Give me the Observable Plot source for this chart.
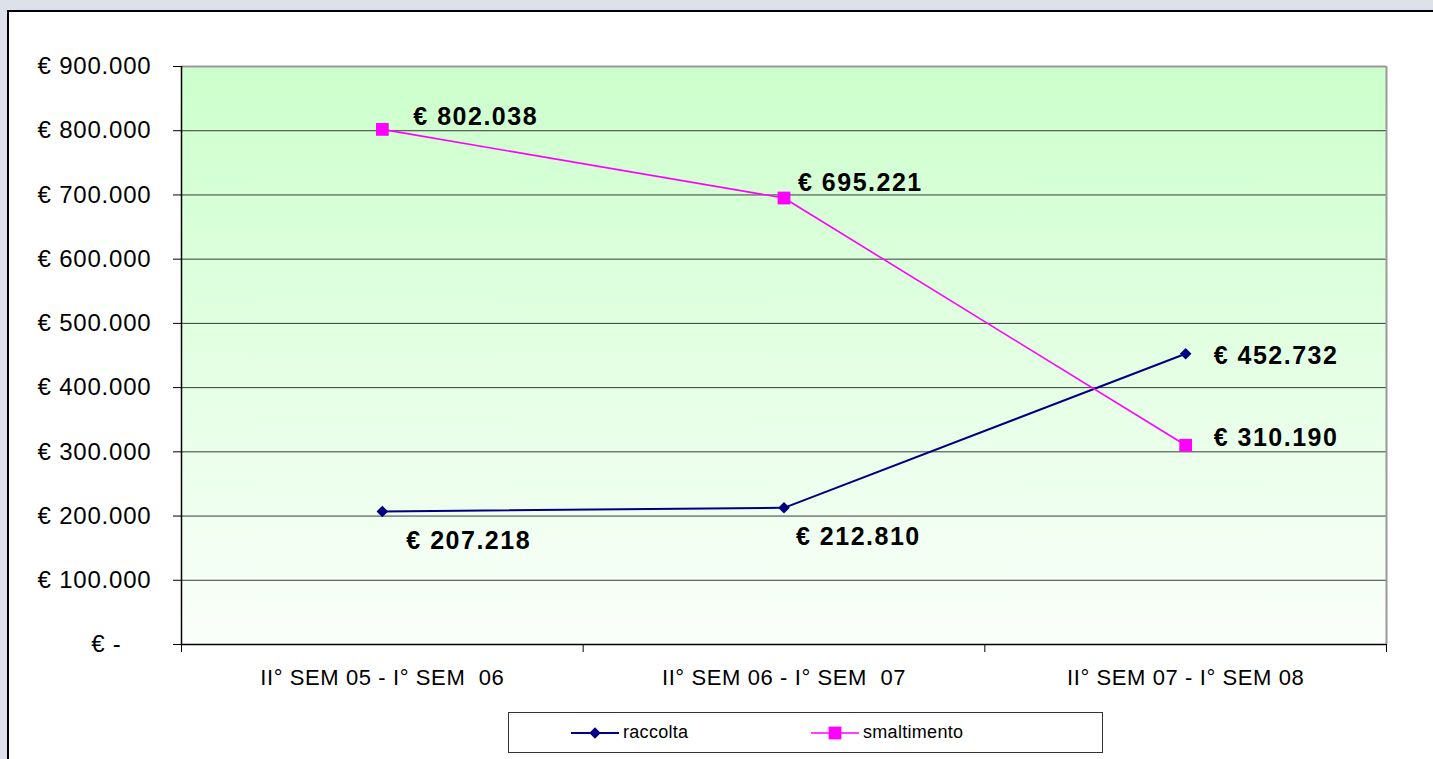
<!DOCTYPE html>
<html>
<head>
<meta charset="utf-8">
<script src="https://cdn.jsdelivr.net/npm/d3@7"></script>
<script src="https://cdn.jsdelivr.net/npm/@observablehq/plot@0.6"></script>
<style>
  html, body { margin: 0; padding: 0; overflow: hidden; }
  body { width: 1433px; height: 759px; background: #dde1ea; position: relative; font-family: "Liberation Sans", Arial, sans-serif; }
  #frame { position: absolute; left: 7px; top: 10px; width: 1426px; height: 749px; box-sizing: border-box; border-left: 2px solid #000; border-top: 2px solid #000; background: #fff; }
  #chart { position: absolute; left: 0; top: 0; }
  #chart svg text { white-space: pre; }
  #chart svg g[aria-label="y-axis tick label"] text { letter-spacing: 0.8px; }
  #chart svg g[aria-label="x-axis tick label"] text { letter-spacing: 0.6px; }
  #chart svg g[aria-label="text"] text { letter-spacing: 1.5px; }
  #legend { position: absolute; left: 508px; top: 712px; width: 593px; height: 39px; border: 1px solid #333; background: #fff; }
  #legend .item { position: absolute; top: 0; height: 39px; display: flex; align-items: center; font-size: 18px; letter-spacing: 0.3px; color: #000; }
  #legend svg { margin-right: 4px; }
</style>
</head>
<body>
<div id="frame"></div>
<div id="chart"></div>
<div id="legend"></div>
<script>
// ---- data ----
const categories = ["II° SEM 05 - I° SEM  06", "II° SEM 06 - I° SEM  07", "II° SEM 07 - I° SEM 08"];
const seriesNames = ["raccolta", "smaltimento"];
const raccolta = [207218, 212810, 452732];
const smaltimento = [802038, 695221, 310190];
const yTicks = [0, 100000, 200000, 300000, 400000, 500000, 600000, 700000, 800000, 900000];

// ---- styles / layout (not data) ----
const seriesColors = ["#000080", "#ff00ff"];
const seriesSymbols = ["diamond2", "square"];
const seriesR = [5.2, 7.2];
const seriesWidth = [2, 1.6];
const labelOffsets = {
  raccolta: [[24, 30], [12, 29], [28, 2]],
  smaltimento: [[31, -12], [14, -15], [28, -7]]
};

const itLocale = d3.formatLocale({decimal: ",", thousands: ".", grouping: [3], currency: ["€", ""]});
const fmt = itLocale.format(",");
const euroTick = d => d === 0 ? "€ -    " : "€ " + fmt(d);
const euroLabel = d => "€ " + fmt(d);

const valuesBySeries = {raccolta, smaltimento};
const rows = [];
seriesNames.forEach(s => valuesBySeries[s].forEach((v, i) => rows.push({serie: s, i, pos: i + 0.5, cat: categories[i], value: v})));

const gradientDefs = () => {
  const defs = d3.create("svg:defs");
  const g = defs.append("linearGradient").attr("id", "bgGrad").attr("x1", 0).attr("y1", 0).attr("x2", 0).attr("y2", 1);
  g.append("stop").attr("offset", "0%").attr("stop-color", "#ccffcc");
  g.append("stop").attr("offset", "100%").attr("stop-color", "#fafffa");
  return defs.node();
};

const labelMarks = [];
seriesNames.forEach(s => {
  rows.filter(r => r.serie === s).forEach(r => {
    const [dx, dy] = labelOffsets[s][r.i];
    labelMarks.push(Plot.text([r], {x: "pos", y: "value", text: d => euroLabel(d.value), dx, dy, textAnchor: "start", fontWeight: "bold", fontSize: 25, fill: "#000"}));
  });
});

const plot = Plot.plot({
  width: 1433,
  height: 700,
  marginLeft: 181,
  marginRight: 47,
  marginTop: 66,
  marginBottom: 56,
  style: {fontFamily: "'Liberation Sans', Arial, sans-serif", fontSize: "24px", color: "#000", background: "transparent", overflow: "visible"},
  x: {type: "linear", domain: [0, categories.length], axis: null, label: null},
  y: {type: "linear", domain: [0, 900000], axis: null, label: null},
  color: {domain: seriesNames, range: seriesColors},
  marks: [
    gradientDefs,
    Plot.frame({fill: "url(#bgGrad)", stroke: "none"}),
    Plot.ruleY(yTicks.filter(t => t > 0 && t < 900000), {stroke: "#3a3a3a", strokeWidth: 1}),
    Plot.ruleY([900000], {stroke: "#999", strokeWidth: 2}),
    Plot.ruleX([categories.length], {stroke: "#999", strokeWidth: 2}),
    Plot.axisY(yTicks, {tickSize: 8, tickPadding: 22, tickFormat: euroTick, stroke: "#000", fontSize: 24, label: null}),
    Plot.axisX(d3.range(categories.length + 1), {tickSize: 8, tickFormat: () => "", stroke: "#000", label: null}),
    Plot.axisX(categories.map((c, i) => i + 0.5), {tickSize: 0, tickPadding: 25, tickFormat: v => categories[Math.floor(v)], fontSize: 22, label: null}),
    Plot.ruleX([0], {stroke: "#000", strokeWidth: 1.5}),
    Plot.ruleY([0], {stroke: "#000", strokeWidth: 1.5}),
    ...seriesNames.map((s, k) => Plot.line(rows.filter(r => r.serie === s), {x: "pos", y: "value", stroke: seriesColors[k], strokeWidth: seriesWidth[k]})),
    ...seriesNames.map((s, k) => Plot.dot(rows.filter(r => r.serie === s), {x: "pos", y: "value", symbol: seriesSymbols[k], r: seriesR[k], fill: seriesColors[k], stroke: "none"})),
    ...labelMarks
  ]
});
document.getElementById("chart").appendChild(plot);

// ---- legend ----
const legend = d3.select("#legend");
const itemLeft = [62, 302];
seriesNames.forEach((s, k) => {
  const item = legend.append("div").attr("class", "item").style("left", itemLeft[k] + "px");
  const sv = item.append("svg").attr("width", 48).attr("height", 16);
  sv.append("line").attr("x1", 0).attr("x2", 48).attr("y1", 8).attr("y2", 8).attr("stroke", seriesColors[k]).attr("stroke-width", seriesWidth[k]);
  sv.append("path").attr("transform", "translate(24,8)")
    .attr("d", d3.symbol(k === 0 ? d3.symbolDiamond2 : d3.symbolSquare, Math.PI * seriesR[k] * seriesR[k])())
    .attr("fill", seriesColors[k]);
  item.append("span").text(s);
});
</script>
</body>
</html>
